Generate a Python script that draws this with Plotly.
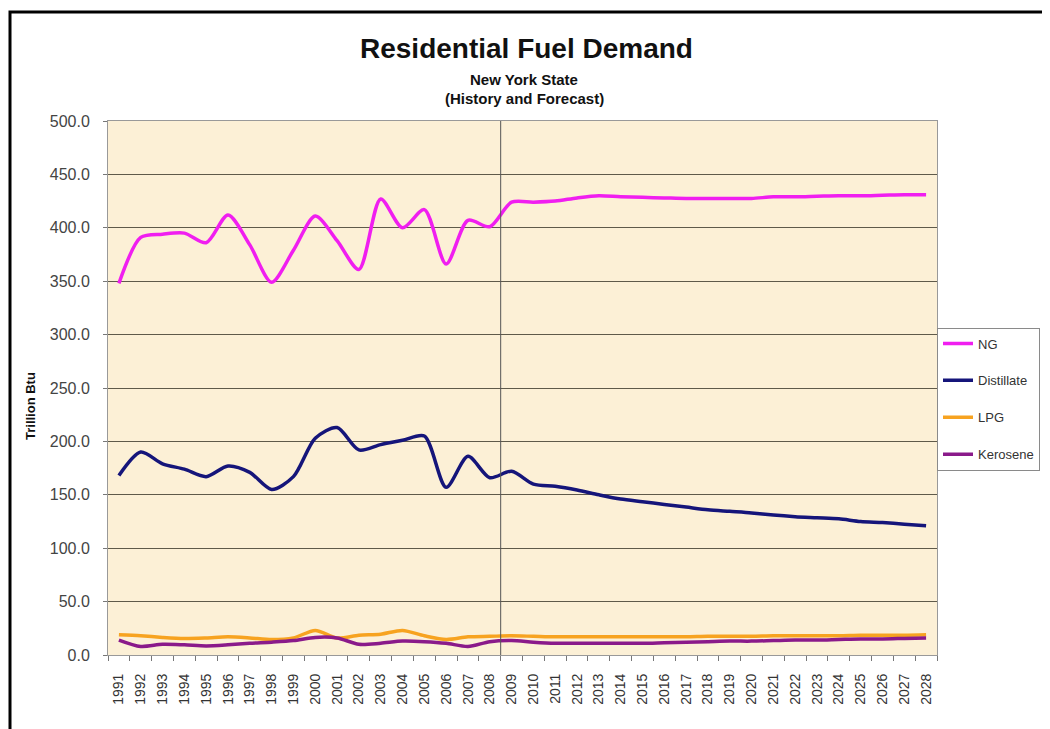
import plotly.graph_objects as go

years = [str(y) for y in range(1991, 2029)]

ng = [348, 391, 394, 395, 386, 412, 384, 349, 379, 411, 388, 361, 427, 400, 417, 366, 407, 401,
      424, 424, 425, 428, 430, 429, 428.5, 428, 427.5, 427.5, 427.5, 427.5, 429, 429, 429.5, 430,
      430, 430.5, 431, 431]

distillate = [168, 190, 179, 174, 167, 177, 171, 155, 167, 203, 213, 192, 197, 201, 205, 157, 186, 166,
              172, 160, 158, 154.5, 150, 146, 143.5, 141, 138.5, 136, 134.5, 133, 131, 129.5, 128.5,
              127.5, 125, 124, 122.5, 121]

lpg = [19, 18, 16.5, 15.5, 16, 17, 16, 14.5, 16, 23, 16, 18.5, 19.5, 23, 18, 14.5, 17, 17.5,
       18, 17.5, 17, 17, 17, 17, 17, 17, 17, 17.5, 17.5, 17.5, 18, 18, 18, 18, 18.5, 18.5, 18.5, 19]

kerosene = [14, 8, 10, 9.5, 8.5, 9.5, 11, 12, 13.5, 16.5, 16, 10, 11, 13, 12.5, 11, 8, 12.5,
            13.5, 12, 11, 11, 11, 11, 11, 11.5, 12, 12.5, 13, 13, 13.5, 14, 14, 14.5, 15, 15, 15.5, 16]

series = [
    ("NG", ng, "#F01EF0"),
    ("Distillate", distillate, "#15157A"),
    ("LPG", lpg, "#F7A320"),
    ("Kerosene", kerosene, "#8A1A8A"),
]

fig = go.Figure()
for name, vals, col in series:
    fig.add_trace(go.Scatter(x=years, y=vals, name=name, mode="lines",
                             line=dict(color=col, width=3.5, shape="spline", smoothing=0.8),
                             legendgroup=name))

font_family = "Liberation Sans, Arial, sans-serif"

# page body adds ~8px offset; figure coords = screen coords - 8
L, T, PW, PH = 100, 113, 829, 534
W, H = 1050, 729


def px(xs):
    return (xs - 8 - L) / PW


def py(ys):
    return (T + PH - (ys - 8)) / PH


fig.update_layout(
    width=W, height=H,
    margin=dict(l=L, r=W - L - PW, t=T, b=H - T - PH, autoexpand=False),
    paper_bgcolor="white",
    plot_bgcolor="#FCF0D6",
    font=dict(family=font_family, color="#222222", size=12),
    showlegend=True,
    legend=dict(x=1.0, y=py(399), xanchor="left", yanchor="middle",
                bgcolor="white", bordercolor="#8a8a8a", borderwidth=1,
                font=dict(size=13, color="#333333"),
                traceorder="grouped", tracegroupgap=17),
    xaxis=dict(type="category", tickson="boundaries", ticks="outside", ticklen=5,
               tickcolor="#777777", tickangle=-90, showgrid=False,
               showline=True, linecolor="#999999", mirror=True,
               tickfont=dict(size=14, color="#333333", family=font_family),
               ticklabelstandoff=12,
               range=[-0.5, 37.5]),
    yaxis=dict(range=[0, 500], dtick=50, tickformat=".1f", showgrid=True,
               gridcolor="#5f5a4a", gridwidth=1, ticks="outside", ticklen=4,
               tickcolor="#777777", showline=True, linecolor="#999999", mirror=True,
               zeroline=False, ticklabelstandoff=10,
               tickfont=dict(size=16, color="#444444")),
)

fig.add_shape(type="line", xref="x", yref="paper", x0=17.5, x1=17.5, y0=0, y1=1,
              line=dict(color="#555555", width=1))

# outer frame
fig.add_shape(type="rect", xref="paper", yref="paper",
              x0=px(10), x1=1.3, y0=-0.3, y1=py(12),
              line=dict(color="black", width=3), layer="above")

fig.add_annotation(text="<b>Trillion Btu</b>", xref="paper", yref="paper",
                   x=px(30), y=py(406), showarrow=False, textangle=-90,
                   font=dict(size=13, color="#111111"), xanchor="center", yanchor="middle")

fig.add_annotation(text="<b>Residential Fuel Demand</b>", xref="paper", yref="paper",
                   x=px(526), y=py(48), showarrow=False,
                   font=dict(size=28, color="#111111"), xanchor="center", yanchor="middle")
fig.add_annotation(text="<b>New York State</b>", xref="paper", yref="paper",
                   x=px(524), y=py(79), showarrow=False,
                   font=dict(size=15, color="#111111"), xanchor="center", yanchor="middle")
fig.add_annotation(text="<b>(History and Forecast)</b>", xref="paper", yref="paper",
                   x=px(524), y=py(99), showarrow=False,
                   font=dict(size=15, color="#111111"), xanchor="center", yanchor="middle")

fig.write_html("out.html")
